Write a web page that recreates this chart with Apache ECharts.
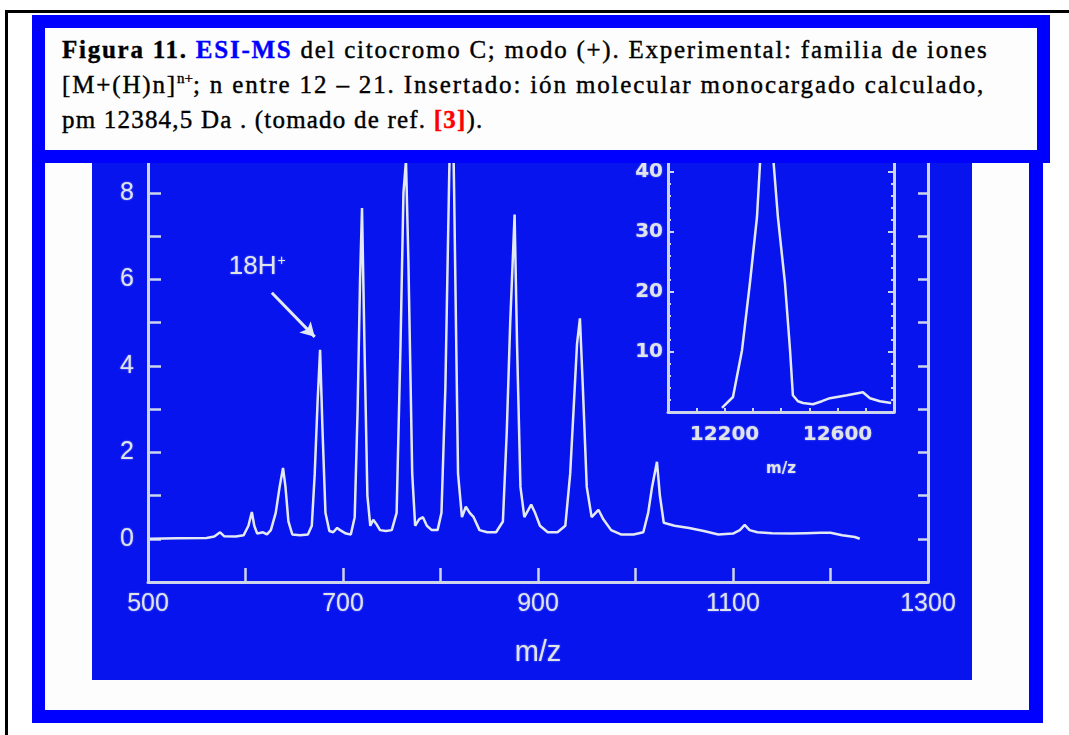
<!DOCTYPE html>
<html>
<head>
<meta charset="utf-8">
<script src="https://cdn.jsdelivr.net/npm/echarts/dist/echarts.min.js"></script>
<style>
  html, body { margin:0; padding:0; background:#ffffff; width:1069px; height:735px; overflow:hidden; }
  #blackframe { position:absolute; left:5px; top:10px; width:1100px; height:760px; border-left:3px solid #000; border-top:3px solid #000; }
  #blueframe { position:absolute; left:32px; top:15px; width:984px; height:682px; border:13px solid #0000ff; border-right-width:14px; background:#fdfdfd; }
  #chart { position:absolute; left:92px; top:150px; width:880px; height:530px; background:#0814ee; }
  #cap { position:absolute; left:32px; top:15px; width:992px; height:122px; border:13px solid #0000ff; background:#fdfdfd; z-index:5;
         font-family:"Liberation Serif", "Times New Roman", serif; font-size:25px; line-height:35px; color:#000;
         box-sizing:content-box; padding:0; }
  #cap .txt { position:absolute; left:17px; top:4px; white-space:nowrap; -webkit-text-stroke:0.4px #000; }
  #cap .l1 { letter-spacing:1.75px; }
  #cap .l2 { letter-spacing:1.85px; }
  #cap .l3 { letter-spacing:1.2px; }
  #cap b { font-weight:bold; }
  #cap .blue { color:#0000ff; -webkit-text-stroke:0.4px #0000ff; }
  #cap .red { color:#ff0000; -webkit-text-stroke:0.4px #ff0000; }
  #cap sup { font-size:15px; line-height:0; vertical-align:10px; letter-spacing:0; }
</style>
</head>
<body>
<div id="blackframe"></div>
<div id="blueframe"></div>
<div id="chart"></div>
<div id="cap"><div class="txt"><span class="l1"><b>Figura 11.</b> <b class="blue">ESI-MS</b> del citocromo C; modo (+). Experimental: familia de iones</span><br><span class="l2">[M+(H)n]<sup>n+</sup>; n entre 12 – 21. Insertado: ión molecular monocargado calculado,</span><br><span class="l3">pm 12384,5 Da . (tomado de ref. <b class="red">[3]</b>).</span></div></div>
<script>
// ---- Main spectrum (m/z vs intensity) ----
const specMz = [502, 530, 560, 568, 574, 578, 590, 598, 603, 606.5, 609, 612, 618, 622, 626, 631, 635, 638.5, 641, 644, 648, 656, 664, 668, 671, 674, 676.5, 679, 682, 686, 690, 694, 697, 703, 708, 712, 715, 717.5, 719.5, 722, 725, 728, 731, 734, 738, 744, 750, 755, 759, 762, 764.6, 767, 771, 774, 778, 782, 786, 791, 797, 801, 805, 809, 811.8, 814, 818, 822, 826, 830, 834, 840, 848, 857, 864, 868, 871.5, 876, 878.5, 882, 886, 893, 897, 902, 910, 920, 928, 933, 937, 940, 943, 946, 950, 955, 962, 967, 975, 985, 998, 1008, 1013, 1017, 1022, 1025, 1029, 1040, 1055, 1070, 1085, 1100, 1107, 1112, 1117, 1125, 1140, 1160, 1175, 1190, 1200, 1212, 1225, 1230];
const specIntensity = [0.0, 0.01, 0.02, 0.05, 0.15, 0.06, 0.05, 0.08, 0.3, 0.62, 0.3, 0.12, 0.15, 0.1, 0.2, 0.6, 1.2, 1.64, 1.2, 0.4, 0.1, 0.08, 0.1, 0.3, 1.5, 3.2, 4.37, 2.5, 0.6, 0.18, 0.15, 0.25, 0.2, 0.12, 0.1, 0.5, 3.0, 6.0, 7.65, 4.5, 1.0, 0.3, 0.44, 0.35, 0.2, 0.18, 0.2, 0.6, 4.5, 8.0, 8.75, 6.5, 1.5, 0.3, 0.45, 0.5, 0.3, 0.2, 0.2, 0.6, 3.5, 8.5, 11.0, 8.0, 1.5, 0.5, 0.74, 0.6, 0.5, 0.2, 0.15, 0.15, 0.4, 2.5, 5.0, 7.5, 4.5, 1.2, 0.5, 0.79, 0.6, 0.3, 0.15, 0.15, 0.3, 1.5, 3.2, 4.5, 5.1, 3.5, 1.2, 0.5, 0.67, 0.45, 0.2, 0.1, 0.1, 0.15, 0.6, 1.2, 1.78, 1.0, 0.37, 0.3, 0.25, 0.18, 0.1, 0.12, 0.2, 0.32, 0.2, 0.15, 0.13, 0.12, 0.13, 0.14, 0.14, 0.08, 0.04, 0.0];

// ---- Inset: singly charged molecular ion ----
const insetMz = [12191, 12230, 12262, 12290, 12315, 12330, 12349, 12368, 12389, 12414, 12432, 12442, 12460, 12478, 12513, 12545, 12573, 12634, 12690, 12715, 12750, 12790];
const insetIntensity = [0.7, 2.5, 10.3, 21.5, 32.5, 45, 60, 45, 32.5, 21.5, 10.3, 2.8, 1.8, 1.5, 1.3, 1.8, 2.3, 2.8, 3.3, 2.3, 1.8, 1.5];

// ---- Tick labels ----
const mainXLabels = [500, 700, 900, 1100, 1300];
const mainYLabels = [0, 2, 4, 6, 8];
const insetXLabels = [12200, 12600];
const insetYLabels = [10, 20, 30, 40];

// ---- Annotation (data coordinates) ----
const annotationText = '18H';
const annotationLabelAt = [612, 6.29];
const annotationArrowFrom = [627, 5.69];
const annotationArrowTo = [671, 4.67];

const LINE = '#e3e9f3';
const TXT = '#dfe3ea';
const AX = '#cdd5ea';
const SANS = 'Liberation Sans, Arial, sans-serif';
const GLOW = { textShadowColor: 'rgba(200,210,255,0.6)', textShadowBlur: 2 };

const chart = echarts.init(document.getElementById('chart'), null, { renderer: 'canvas' });

function axisCommon(extra) {
  return Object.assign({
    type: 'value',
    splitLine: { show: false },
    axisLine: { show: true, onZero: false, lineStyle: { color: AX, width: 3 } },
  }, extra);
}

chart.setOption({
  backgroundColor: 'transparent',
  animation: false,
  grid: [
    { left: 56, width: 780, top: 4, height: 428 },
    { left: 576, width: 226, top: 4, height: 258 }
  ],
  xAxis: [
    axisCommon({
      gridIndex: 0, min: 500, max: 1300, interval: 100,
      axisTick: { show: true, inside: true, length: 14, lineStyle: { color: AX, width: 2.5 } },
      axisLabel: Object.assign({ show: true, margin: 10, color: TXT, fontSize: 25, fontFamily: SANS,
        formatter: v => mainXLabels.includes(v) ? String(v) : '' }, GLOW),
      name: 'm/z', nameLocation: 'middle', nameGap: 56,
      nameTextStyle: Object.assign({ color: TXT, fontSize: 29, fontFamily: SANS }, GLOW)
    }),
    axisCommon({
      gridIndex: 1, min: 12000, max: 12800, interval: 100,
      axisTick: { show: true, inside: true, length: 4, lineStyle: { color: AX, width: 2 } },
      axisLabel: Object.assign({ show: true, margin: 13, color: TXT, fontSize: 20, fontWeight: 'bold', fontFamily: 'DejaVu Sans, sans-serif',
        formatter: v => insetXLabels.includes(v) ? String(v) : '' }, GLOW),
      name: 'm/z', nameLocation: 'middle', nameGap: 50,
      nameTextStyle: Object.assign({ color: TXT, fontSize: 15, fontWeight: 'bold', fontFamily: 'DejaVu Sans, sans-serif' }, GLOW)
    })
  ],
  yAxis: [
    axisCommon({
      gridIndex: 0, min: -1, max: 8.9, interval: 1,
      axisTick: { show: true, inside: true, length: 13, lineStyle: { color: AX, width: 2.5 } },
      axisLabel: Object.assign({ show: true, margin: 14, color: TXT, fontSize: 25, fontFamily: SANS,
        formatter: v => mainYLabels.includes(v) ? String(v) : '' }, GLOW)
    }),
    axisCommon({
      gridIndex: 0, position: 'right', min: -1, max: 8.9, interval: 1,
      axisTick: { show: true, inside: true, length: 10, lineStyle: { color: AX, width: 2.5 } },
      axisLabel: { show: false }
    }),
    axisCommon({
      gridIndex: 1, min: 0, max: 43, interval: 10,
      axisTick: { show: true, inside: true, length: 6, lineStyle: { color: AX, width: 2 } },
      minorTick: { show: true, splitNumber: 5, length: 3, lineStyle: { color: AX, width: 2 } },
      axisLabel: Object.assign({ show: true, margin: 5, color: TXT, fontSize: 20, fontWeight: 'bold', fontFamily: 'DejaVu Sans, sans-serif',
        formatter: v => insetYLabels.includes(v) ? String(v) : '' }, GLOW)
    }),
    axisCommon({
      gridIndex: 1, position: 'right', min: 0, max: 43, interval: 10,
      axisTick: { show: true, inside: true, length: 6, lineStyle: { color: AX, width: 2 } },
      minorTick: { show: true, splitNumber: 5, length: 3, lineStyle: { color: AX, width: 2 } },
      axisLabel: { show: false }
    })
  ],
  series: [
    {
      type: 'line', xAxisIndex: 0, yAxisIndex: 0, clip: true, silent: true,
      symbol: 'none', smooth: false,
      lineStyle: { color: LINE, width: 2.5 },
      data: specMz.map((m, i) => [m, specIntensity[i]]),
      markLine: {
        silent: true, symbol: ['none', 'arrow'], symbolSize: [12, 14], animation: false,
        lineStyle: { color: LINE, width: 3, type: 'solid' },
        label: { show: false },
        data: [[{ coord: annotationArrowFrom }, { coord: annotationArrowTo }]]
      },
      markPoint: {
        silent: true, symbol: 'rect', symbolSize: 1, itemStyle: { color: 'rgba(0,0,0,0)' },
        label: {
          show: true, position: 'inside', formatter: '{a|' + annotationText + '}{s|+}',
          rich: {
            a: Object.assign({ color: TXT, fontSize: 26, fontFamily: SANS }, GLOW),
            s: Object.assign({ color: TXT, fontSize: 14, fontFamily: SANS, verticalAlign: 'top', padding: [0, 0, 12, 1] }, GLOW)
          }
        },
        data: [{ coord: annotationLabelAt }]
      }
    },
    {
      type: 'line', xAxisIndex: 1, yAxisIndex: 2, clip: true, silent: true,
      symbol: 'none', smooth: false,
      lineStyle: { color: LINE, width: 2.5 },
      data: insetMz.map((m, i) => [m, insetIntensity[i]])
    }
  ]
});
</script>
</body>
</html>
